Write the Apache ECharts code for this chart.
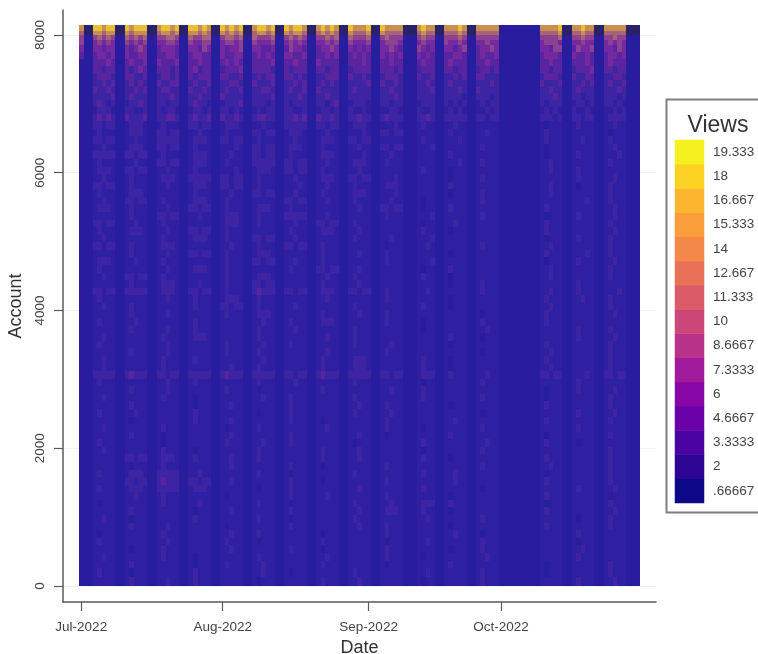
<!DOCTYPE html>
<html>
<head>
<meta charset="utf-8">
<style>html,body{margin:0;padding:0;background:#fff}#c{width:758px;height:654px}</style>
<script src="https://cdn.jsdelivr.net/npm/echarts@6/dist/echarts.min.js"></script>
</head>
<body>
<div id="c"></div>
<script>
// Account band edges, top to bottom
const topEdges = [8145,8060,8000,7930,7850,7750,7650,7550,7450,7350,7250,7150,7050,6950,6850,6750];
const lowEdges = [6640,6530,6420,6310,6200,6090,5980,5870,5760,5650,5540,5430,5320,5210,5100,4990,4880,4770,4660,4550,4440,4330,4220,4110,4000,
  3890,3780,3670,3560,3450,3340,3230,3120,3000,2900,2790,2680,2570,2460,2350,2240,2130,2020,1910,1800,1690,1580,1470,1360,1250,1140,1030,920,810,700,590,480,370,260,130,0];
// Top bands, shade level per day: n = darkest stripe head, 0..9 = low to high.
// Groups: Jul 1 | ten weeks (weekend + weekdays) | Sep 10-12 + 4 days | 2 weeks | Oct 1-9 + 5 days | 2 weeks | Oct 29-31
const topLevels = [
"8 nn99899 nn98999 nn89989 nn99898 nn98989 nn89989 nn98998 nn89898 nn98889 nn98888 nnn8988 nn88898 nn88888 111111111 88889 nn88988 nn88888 nnn",
"7 nn88788 nn87888 nn78878 nn88787 nn87878 nn78878 nn87887 nn78787 nn87778 nn87777 nnn7877 nn77787 nn77777 111111111 77778 nn77877 nn77777 nnn",
"6 1167676 1176767 1166776 1176677 1167767 1176667 1167676 1166767 1176667 1167666 1116766 1166676 1166666 111111111 66667 1166766 1166766 111",
"6 1156565 1165656 1155665 1165566 1156656 1165556 1156565 1155656 1165556 1156665 1115655 1165565 1155655 111111111 56665 1155655 1156565 111",
"5 1155455 1154565 1145554 1155465 1154556 1155445 1146554 1145565 1154545 1155654 1116545 1155456 1145565 111111111 55466 1146556 1155465 111",
"4 1145545 1154455 1144554 1145544 1154455 1145454 1155445 1144545 1145454 1154545 1115454 1144554 1145445 111111111 45554 1154454 1145545 111",
"1 1144454 1145445 1154445 1144544 1145454 1144445 1144544 1154444 1144454 1144544 1114544 1145444 1144544 111111111 44544 1144454 1145444 111",
"1 1144344 1143454 1144434 1145344 1134445 1144443 1143444 1144344 1134444 1144434 1113444 1144344 1134434 111111111 44344 1134445 1144344 111",
"1 1134443 1144334 1134434 1143444 1144334 1134344 1144343 1133444 1143343 1134443 1114334 1133434 1144333 111111111 34443 1143344 1133443 111",
"1 1133434 1134343 1143344 1134334 1133443 1143334 1133434 1134343 1133334 1143343 1113343 1134333 1133343 111111111 43334 1133434 1134334 111",
"1 1143343 1133434 1134433 1143343 1134334 1133443 1134334 1143333 1134333 1133433 1113334 1133343 1143333 111111111 33433 1134333 1133343 111",
"1 1133334 1134333 1133343 1133433 1143333 1133334 1133343 1133433 1133333 1133343 1113333 1133332 1133323 111111111 33343 1133233 1133323 111",
"1 1134323 1123343 1133233 1134332 1123334 1133323 1132333 1133234 1123332 1133233 1112333 1132323 1123233 111111111 32333 1123323 1133232 111",
"1 1123332 1133223 1132332 1123323 1133232 1123233 1133223 1123323 1132232 1122332 1113223 1123232 1122323 111111111 23232 1132232 1122323 111",
"1 1134343 1143334 1133443 1134334 1143343 1134433 1133434 1143343 1133433 1134333 1113343 1133333 1133233 111111111 33323 1133233 1123333 111"
];
const weekShapes = {a:"22222",b:"23222",c:"22322",d:"22232",e:"33233",f:"23332",g:"21222",j:"33333",k:"34333"};
const lowCodes = [
"efbefcjefdbcagbc","bfecbefcdeabcbag","ecjfebcfeabdabcb","cfebdefbcedabgac","jebfcebfdcabagbd","bcefbjecfbadbcab",
"fecbdfebcabgacba","cbfjebcfedagbabc","ebcfebdcbfabacgb","bfabcecbfdagbcab","cebfbaecbcgabadb","fbcebfbacegbabac",
"abecfbjcabdabgbc","ecbafbcebagcabab","bfcebabfcabgabac","cabfbecabcdaagbb","ebfacbebagcabcab","abcebfabcbagabdb",
"fcbabecbabdaagbc","bacfbabecagbacab","cebabfacbabgacab","abfcbeabcaagbaba","ejfebkefebcabcbd","bacbfbacabagabcb",
"cbabebcababgacab","abcabfabcbaagbac","bcabacbfabgabbaa","abcbabcabagacabb","cabfabacbaabgabc","bacabcbabcagabab",
"abcabbacabaagcab","cabbacabfabgabab","cabacbabfabgacab","jkejkjekjefbcede","bacbabcabagababa","abcabgabacbaagbc",
"cabgacbabababgab","abagcabacbagabab","bcabagbabcaagabc","agabcabgabacabab","cabagbacabgababa","abgacabacgabagab",
"bagabcbagabacbga","cabgababcagabaab","aefbcbabcabgabab","agbacabgabaabcab","bfjcabgababcagab","aekecabgabacabab",
"bfjfagbacabagabc","acbagabcabagabag","gabcabgabcfbagab","abagcabacfbgabac","cgababgabacabagb","abcagabacbagabab",
"gabacbagabacgaba","bacabgabagcabaga","agbacabgabagbaca","cabgabacabgacaba","abagbcabagabagab","bgabacgabacabgab","abcbagabcagababc"
];
const levelCodes = "n0123456789";
const levelColors = ["#2a2268","#251a9a","#281c9f","#2f1fa2","#3c24a2","#5824a0","#7429a0","#8c4290","#a66478","#c89050","#e8c038"];
const dayTicks = [0,31,63,92];
const dayTickLabels = ["Jul-2022","Aug-2022","Sep-2022","Oct-2022"];
const accountTicks = [0,2000,4000,6000,8000];
const legendLabels = [".66667","2","3.3333","4.6667","6","7.3333","8.6667","10","11.333","12.667","14","15.333","16.667","18","19.333"];
const legendColors = ["#0d0887","#2c0594","#4b03a1","#6a00a8","#8606a6","#a01a9c","#b83289","#cc4778","#db5c68","#e97158","#f48849","#fa9e3b","#fdb42f","#fcd225","#f5f01f"];

// Spell a lower band out day by day: stripes (weekends, holidays) stay at level 1.
function spellLow(code) {
  const w = code.padEnd(16, "a").split("").map(c => weekShapes[c] || weekShapes.a);
  let s = "1";
  for (let i = 0; i < 10; i++) s += "11" + w[i];
  s += "111" + w[10].slice(0, 4);
  s += "11" + w[11] + "11" + w[12];
  s += "111111111" + w[13];
  s += "11" + w[14] + "11" + w[15] + "111";
  return s;
}
const rowEdges = topEdges.concat(lowEdges);
const allRows = topLevels.map(r => r.replace(/ /g, "")).concat(lowCodes.map(spellLow));
const cells = [];
allRows.forEach((s, i) => {
  for (let d = 0; d < 123; d++) {
    cells.push([d, rowEdges[i + 1], rowEdges[i], levelCodes.indexOf(s[d] || "1")]);
  }
});

const axisGrey = "#5a5a5a", textGrey = "#444", font = "Liberation Sans";
const chart = echarts.init(document.getElementById("c"), null, {renderer: "canvas"});
chart.setOption({
  animation: false,
  textStyle: {fontFamily: font},
  title: {text: "Views", left: 713, top: 109, textAlign: "center",
    textStyle: {fontFamily: font, fontSize: 23, fontWeight: "normal", color: "#333"}},
  graphic: [{type: "rect", z: -1, left: 665.5, top: 98.5,
    shape: {width: 110, height: 413}, style: {fill: "#fff", stroke: "#7f7f7f", lineWidth: 2}}],
  grid: [
    {left: 63, right: 102, top: 10, bottom: 52, outerBoundsMode: "none"},
    {left: 675, top: 140, width: 29, height: 363, outerBoundsMode: "none"}
  ],
  xAxis: [
    {type: "value", gridIndex: 0, min: -4, max: 126, name: "Date", nameLocation: "middle", nameGap: 29,
      nameTextStyle: {fontSize: 18, color: "#333"},
      axisLine: {onZero: false, lineStyle: {color: axisGrey, width: 1.5}},
      axisTick: {length: 9, customValues: dayTicks, lineStyle: {color: axisGrey, width: 1.2}},
      axisLabel: {margin: 18, fontSize: 13.5, color: textGrey, customValues: dayTicks,
        formatter: v => dayTickLabels[dayTicks.indexOf(v)]},
      splitLine: {show: false}},
    {type: "category", gridIndex: 1, data: ["v"], show: false}
  ],
  yAxis: [
    {type: "value", gridIndex: 0, min: -232, max: 8362, name: "Account", nameLocation: "middle", nameGap: 25,
      nameTextStyle: {fontSize: 18, color: "#333"},
      axisLine: {onZero: false, lineStyle: {color: axisGrey, width: 1.5}},
      axisTick: {length: 9, customValues: accountTicks, lineStyle: {color: axisGrey, width: 1.2}},
      axisLabel: {margin: 16, fontSize: 13.5, color: textGrey, rotate: 90, customValues: accountTicks,
        formatter: v => String(v)},
      splitLine: {show: true, lineStyle: {color: "#eef2f3", width: 1}}},
    {type: "category", gridIndex: 1, position: "right", data: legendLabels,
      axisLine: {show: false}, axisTick: {show: false},
      axisLabel: {margin: 9, fontSize: 13.5, color: textGrey}}
  ],
  visualMap: [{show: false, seriesIndex: 0, dimension: 3, min: 0, max: levelColors.length - 1, inRange: {color: levelColors}}],
  series: [
    {type: "custom", xAxisIndex: 0, yAxisIndex: 0, data: cells, encode: {x: 0, y: [1, 2]},
      silent: true, clip: true,
      renderItem: (params, api) => {
        const a = api.coord([api.value(0) - 0.5, api.value(2)]);
        const b = api.coord([api.value(0) + 0.5, api.value(1)]);
        const x0 = Math.round(a[0]), y0 = Math.round(a[1]);
        return {type: "rect", shape: {x: x0, y: y0, width: Math.round(b[0]) - x0, height: Math.round(b[1]) - y0},
          style: {fill: api.visual("color")}};
      }},
    {type: "heatmap", xAxisIndex: 1, yAxisIndex: 1, silent: true,
      data: legendColors.map((c, i) => ({value: [0, i, i], itemStyle: {color: c}}))}
  ]
});
</script>
</body>
</html>
